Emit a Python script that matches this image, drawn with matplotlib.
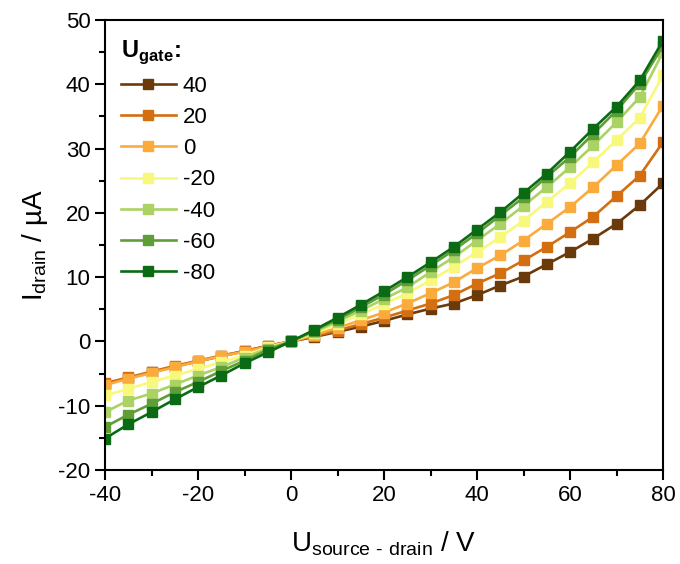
import matplotlib
matplotlib.use("Agg")
import matplotlib.pyplot as plt
from matplotlib.ticker import MultipleLocator

plt.rcParams['font.family'] = ['Liberation Sans', 'DejaVu Sans']
plt.rcParams['axes.unicode_minus'] = False

u_sd = [-40, -35, -30, -25, -20, -15, -10, -5, 0, 5, 10, 15, 20, 25, 30, 35, 40,
        45, 50, 55, 60, 65, 70, 75, 80]

gate_labels = ["40", "20", "0", "-20", "-40", "-60", "-80"]
colors = ["#6b3a0b", "#d36f10", "#fbab3c", "#f8f87c", "#aad264", "#5f9e36", "#0b6b14"]

i_g40 = [-6.6, -5.7, -4.8, -3.9, -3.1, -2.3, -1.5, -0.7, 0, 0.7, 1.5, 2.3, 3.2, 4.2, 5.1,
         5.9, 7.2, 8.7, 10.1, 12.0, 13.9, 16.0, 18.3, 21.2, 24.6]
i_g20 = [-6.5, -5.6, -4.7, -3.8, -3.0, -2.2, -1.5, -0.7, 0, 0.8, 1.7, 2.7, 3.7, 4.8, 5.9,
         7.2, 9.0, 10.6, 12.6, 14.7, 17.0, 19.4, 22.6, 25.8, 31.0]
i_g0 = [-6.8, -5.8, -4.9, -4.0, -3.1, -2.3, -1.6, -0.8, 0, 1.0, 2.1, 3.3, 4.5, 5.9, 7.5,
        9.2, 11.4, 13.4, 15.7, 18.3, 20.9, 24.0, 27.4, 30.8, 36.7]
i_gm20 = [-8.4, -7.4, -6.3, -5.3, -4.3, -3.2, -2.2, -0.9, 0, 1.3, 2.7, 4.2, 5.8, 7.5, 9.5,
          11.6, 13.9, 16.2, 18.8, 21.7, 24.6, 27.9, 31.3, 34.8, 41.4]
i_gm40 = [-11.0, -9.2, -8.1, -6.7, -5.3, -4.0, -2.5, -1.1, 0, 1.5, 3.1, 4.8, 6.6, 8.4, 10.8,
          13.1, 15.7, 18.3, 21.1, 24.0, 27.1, 30.5, 34.1, 38.0, 45.0]
i_gm60 = [-13.3, -11.4, -9.7, -7.9, -6.3, -4.6, -3.0, -1.3, 0, 1.7, 3.4, 5.3, 7.3, 9.5, 11.8,
          14.2, 16.8, 19.6, 22.4, 25.6, 28.7, 32.3, 35.9, 40.1, 46.0]
i_gm80 = [-15.1, -12.9, -11.0, -9.0, -7.1, -5.3, -3.4, -1.7, 0, 1.8, 3.7, 5.7, 7.8, 10.0, 12.3,
          14.7, 17.4, 20.1, 23.1, 26.1, 29.5, 33.1, 36.5, 40.6, 46.8]

series = [i_g40, i_g20, i_g0, i_gm20, i_gm40, i_gm60, i_gm80]

fig = plt.figure(figsize=(6.8, 5.64), dpi=100)
ax = fig.add_axes([105/680, 1-470/564, (663-105)/680, (470-20)/564])

for lab, c, ys in zip(gate_labels, colors, series):
    ax.plot(u_sd, ys, color=c, lw=1.9, marker='s', ms=6.5, label=lab)

ax.set_xlim(-40, 80)
ax.set_ylim(-20, 50)
ax.xaxis.set_major_locator(MultipleLocator(20))
ax.xaxis.set_minor_locator(MultipleLocator(10))
ax.yaxis.set_major_locator(MultipleLocator(10))
ax.yaxis.set_minor_locator(MultipleLocator(5))
ax.tick_params(which='major', direction='out', length=7, width=1.5, labelsize=16,
               top=False, right=False)
ax.tick_params(which='minor', direction='out', length=4, width=1.5, top=False, right=False)
for s in ax.spines.values():
    s.set_linewidth(1.5)

ax.set_xlabel("U$_{\\mathregular{source\\ \u2010\\ drain}}$ / V", fontsize=20, labelpad=17)
ax.set_ylabel(r"I$_{\mathregular{drain}}$ / µA", fontsize=20, labelpad=6)

leg = ax.legend(loc='upper left', frameon=False, fontsize=16,
                title=r"U$_{\mathregular{gate}}$:", handlelength=2.5,
                handletextpad=0.3, labelspacing=0.46, borderaxespad=0.3,
                bbox_to_anchor=(0.0, 0.995))
leg.get_title().set_fontsize(17)
leg.get_title().set_fontweight('bold')
leg._legend_box.align = "left"

fig.savefig("out.png", dpi=100)
